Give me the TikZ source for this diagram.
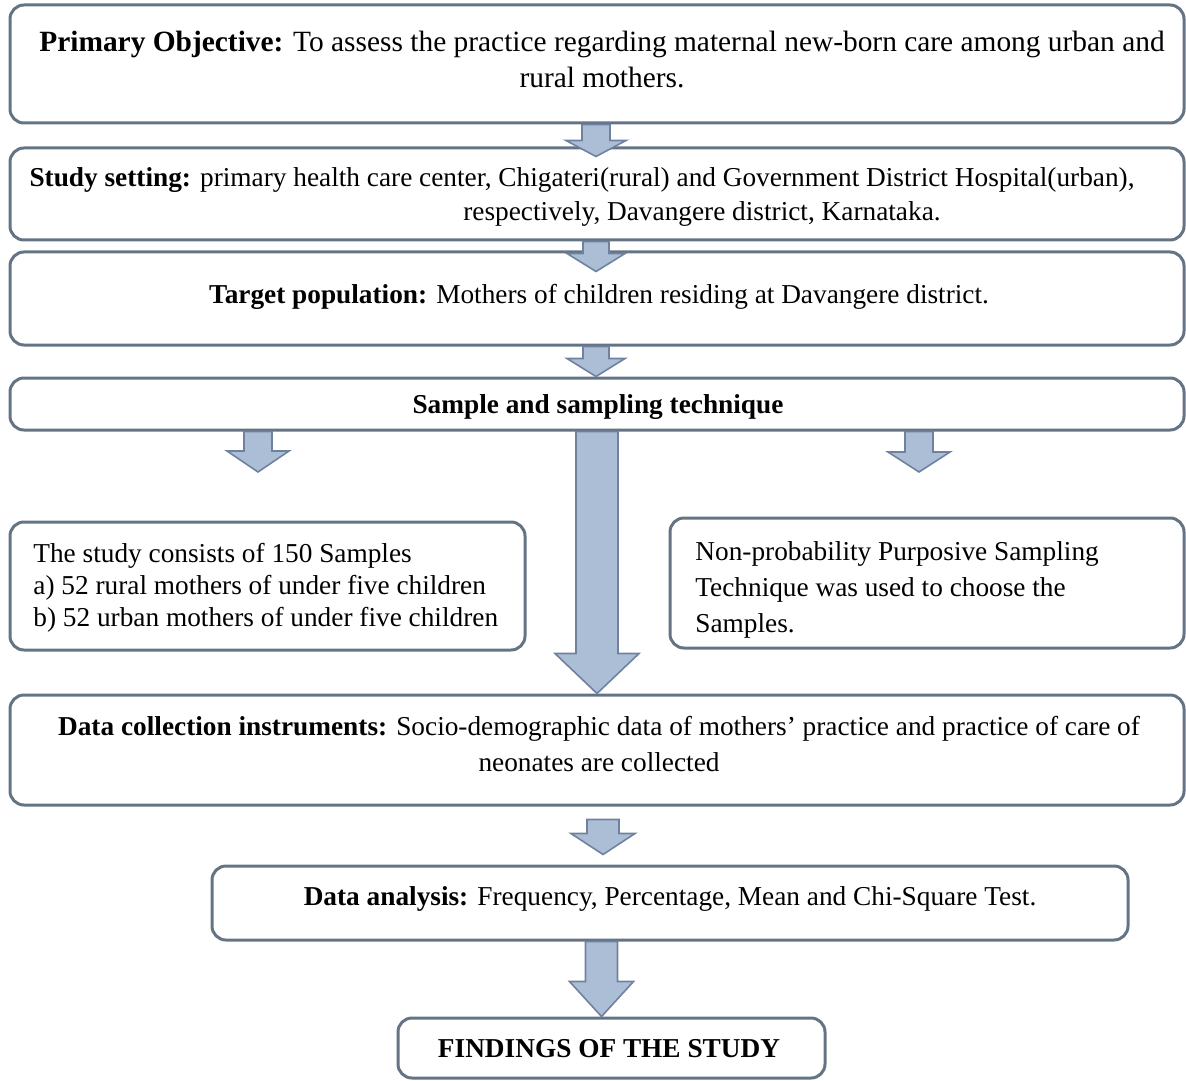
\documentclass[tikz,border=0pt]{standalone}
\usepackage{fontspec}
\setmainfont{Liberation Serif}
\usepackage{tikz}
\usetikzlibrary{positioning}
\usetikzlibrary{fit}
\usetikzlibrary{calc}
\usetikzlibrary{math}

\definecolor{boxline}{RGB}{100,116,132}
\definecolor{arrowfill}{RGB}{172,190,214}
\definecolor{arrowline}{RGB}{110,130,160}

\tikzset{
  stage/.style={draw=boxline, line width=1.5pt, rounded corners=7pt, inner sep=0pt},
  txt/.style={inner sep=0pt, align=center, font=\fontsize{13.65}{18}\selectfont},
  sidetxt/.style={txt, anchor=west, align=left},
  barrow/.style={draw=arrowline, fill=arrowfill, line width=0.8pt, line join=miter}
}

% block arrow: start, tip, half shaft, half head, head length
\newcommand{\blockarrow}[5]{%
  \path (#2 |- #1) coordinate (bstart);
  \draw[barrow] ($(bstart)+(-#3,0)$) -- ($(#2)+(-#3,-#5)$) -- ($(#2)+(-#4,-#5)$) -- (#2)
    -- ($(#2)+(#4,-#5)$) -- ($(#2)+(#3,-#5)$) -- ($(bstart)+(#3,0)$) -- cycle;
}

\begin{document}
\begin{tikzpicture}[x=0.5pt,y=-0.5pt]
      \tikzmath{
        \s = 14;
        \hd = 30;
        \sBig = 21;
        \hBig = 42;
      }
      \useasboundingbox (0,0) rectangle (1186,1080);

      % boxes
      \node[stage, fit={(10,5) (1184,123)}] (obj) {};
      \node[stage, fit={(10,148) (1184,240)}] (setting) {};
      \node[stage, fit={(10,252) (1184,345)}] (target) {};
      \node[stage, fit={(10,378) (1184,430)}] (sample) {};
      \node[stage, fit={(10,522) (525,650)}] (rural) {};
      \node[stage, fit={(670,518) (1184,648)}] (purpose) {};
      \node[stage, fit={(10,695) (1184,805)}] (data) {};
      \node[stage, fit={(212,866) (1128,940)}] (analysis) {};
      \node[stage, fit={(398,1018) (825,1078)}] (findings) {};

      % texts
      \node[txt, font=\fontsize{14.7}{18}\selectfont] (objtext) at (602,60)
        {\textbf{Primary Objective:} To assess the practice regarding maternal new-born care among urban and\\rural mothers.};
      \node[txt, font=\fontsize{13.65}{17}\selectfont] (settingtext) at (582,197)
        {\textbf{Study setting:} primary health care center, Chigateri(rural) and Government District Hospital(urban),\\\hspace*{120pt}respectively, Davangere district, Karnataka.};
      \node[txt] (targettext) at (599,297)
        {\textbf{Target population:} Mothers of children residing at Davangere district.};
      \node[txt] (sampletext) at (598,407)
        {\textbf{Sample and sampling technique}};
      \node[sidetxt, font=\fontsize{13.65}{16}\selectfont] (ruraltext) at (33,588)
        {The study consists of 150 Samples\\a) 52 rural mothers of under five children\\b) 52 urban mothers of under five children};
      \node[sidetxt] (purposetext) at (695,590)
        {Non-probability Purposive Sampling\\Technique was used to choose the\\Samples.};
      \node[txt] (datatext) at (599,744)
        {\textbf{Data collection instruments:} Socio-demographic data of mothers' practice and practice of care of\\neonates are collected};
      \node[txt] (analysistext) at (670,899)
        {\textbf{Data analysis:} Frequency, Percentage, Mean and Chi-Square Test.};
      \node[txt] (findingstext) at (609,1049)
        {\textbf{FINDINGS OF THE STUDY}};

      % arrow ends
      \coordinate (t1) at ($(setting.north)+(-1,10)$);
      \coordinate (t2) at ($(target.north)+(-1,21)$);
      \coordinate (t3) at ($(sample.north)+(-1,0)$);
      \coordinate (tL) at (258,472);
      \coordinate (tR) at (919,472);
      \coordinate (s7) at ($(data.south)+(6,13)$);
      \coordinate (t7) at ($(data.south)+(6,48)$);
      \coordinate (t8) at ($(findings.north)+(-10,0)$);

      % arrows
      \blockarrow{obj.south}{t1}{\s}{\hd}{16}
      \blockarrow{setting.south}{t2}{13}{29}{18}
      \blockarrow{target.south}{t3}{13}{29}{18}
      \blockarrow{sample.south}{tL}{\s}{31}{21}
      \blockarrow{sample.south}{tR}{\s}{31}{20}
      \blockarrow{sample.south}{data.north}{\sBig}{\hBig}{40}
      \blockarrow{s7}{t7}{16}{32}{21}
      \blockarrow{analysis.south}{t8}{16}{32}{35}
\end{tikzpicture}
\end{document}
